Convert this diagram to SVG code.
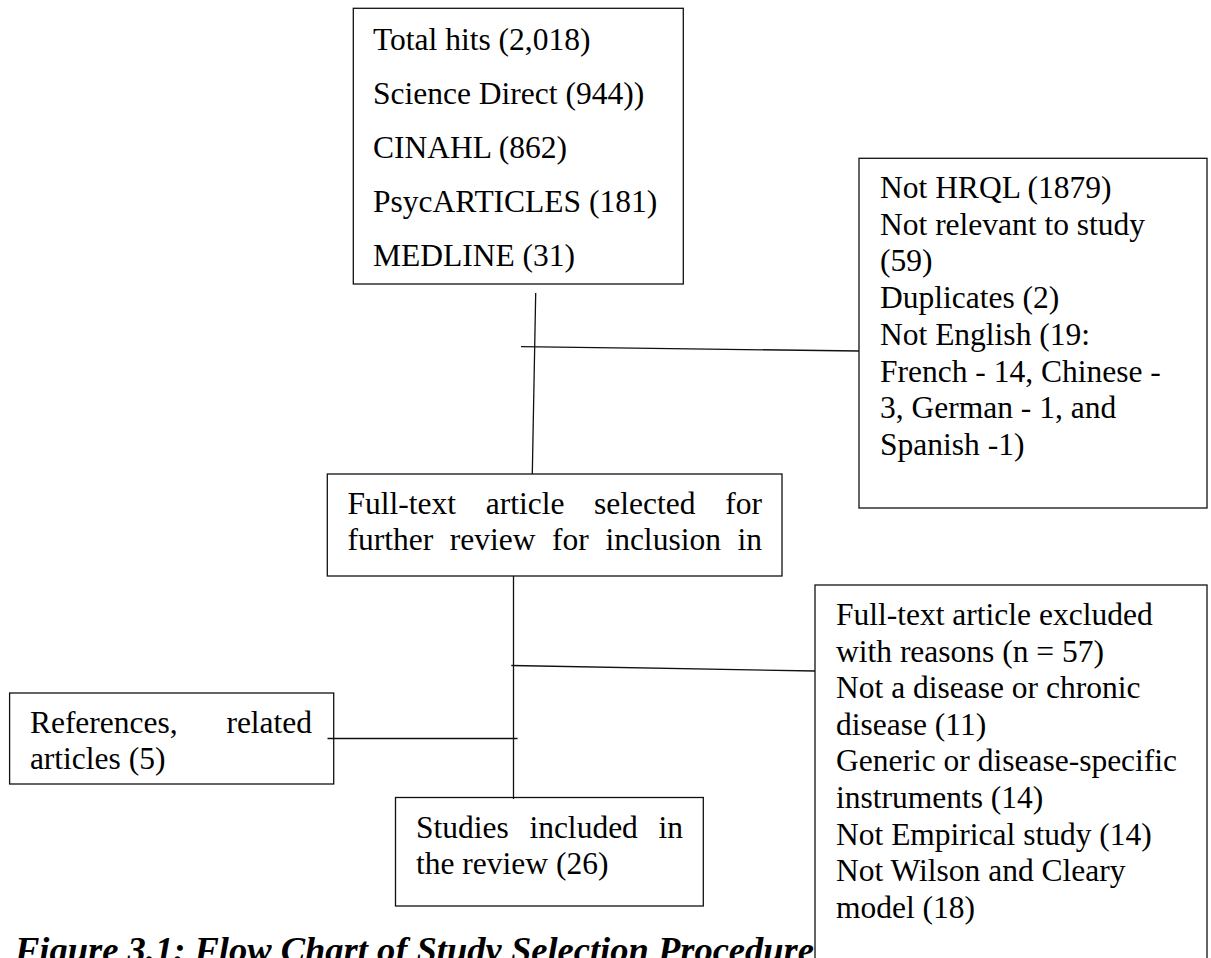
<svg xmlns="http://www.w3.org/2000/svg" width="1211" height="958" viewBox="0 0 1211 958">
<style>
.box{fill:#fff;stroke:#111;stroke-width:1.3}
.t{font-family:"Liberation Serif","Times New Roman",serif;font-size:31.5px;fill:#000}
.cap{font-family:"Liberation Serif","Times New Roman",serif;font-size:36.5px;font-weight:bold;font-style:italic;fill:#000}
.ln{stroke:#111;stroke-width:1.3;fill:none}
</style>
<rect width="1211" height="958" fill="#fff"/>
<text class="cap" x="15" y="962">Figure 3.1: Flow Chart of Study Selection Procedure</text>
<g id="search">
<rect class="box" x="353.3" y="8.3" width="330" height="275.7"/>
<text class="t" x="373"><tspan x="373" y="50">Total hits (2,018)</tspan><tspan x="373" y="104">Science Direct (944))</tspan><tspan x="373" y="158">CINAHL (862)</tspan><tspan x="373" y="212">PsycARTICLES (181)</tspan><tspan x="373" y="266">MEDLINE (31)</tspan></text>
</g>
<g id="excluded1">
<rect class="box" x="859" y="158.3" width="348" height="349.7"/>
<text class="t"><tspan x="880" y="198">Not HRQL (1879)</tspan><tspan x="880" y="234.7">Not relevant to study</tspan><tspan x="880" y="271.4">(59)</tspan><tspan x="880" y="308.1">Duplicates (2)</tspan><tspan x="880" y="344.8">Not English (19:</tspan><tspan x="880" y="381.5">French - 14, Chinese -</tspan><tspan x="880" y="418.2">3, German - 1, and</tspan><tspan x="880" y="454.9">Spanish -1)</tspan></text>
</g>
<g id="fulltext">
<rect class="box" x="327.3" y="474" width="454.7" height="102"/>
<text class="t"><tspan x="347.5" y="514">Full-text</tspan><tspan x="485.7" y="514">article</tspan><tspan x="594.1" y="514">selected</tspan><tspan x="725.3" y="514">for</tspan><tspan x="347.5" y="550">further</tspan><tspan x="449.8" y="550">review</tspan><tspan x="552.1" y="550">for</tspan><tspan x="605.4" y="550">inclusion</tspan><tspan x="737.5" y="550">in</tspan></text>
</g>
<g id="excluded2">
<rect class="box" x="815" y="585" width="392" height="390"/>
<text class="t"><tspan x="836" y="625">Full-text article excluded</tspan><tspan x="836" y="661.6">with reasons (n = 57)</tspan><tspan x="836" y="698.2">Not a disease or chronic</tspan><tspan x="836" y="734.8">disease (11)</tspan><tspan x="836" y="771.4">Generic or disease-specific</tspan><tspan x="836" y="808">instruments (14)</tspan><tspan x="836" y="844.6">Not Empirical study (14)</tspan><tspan x="836" y="881.2">Not Wilson and Cleary</tspan><tspan x="836" y="917.8">model (18)</tspan></text>
</g>
<g id="references">
<rect class="box" x="9.6" y="693" width="324.1" height="91"/>
<text class="t"><tspan x="29.9" y="733">References,</tspan><tspan x="226.4" y="733">related</tspan><tspan x="29.9" y="769">articles (5)</tspan></text>
</g>
<g id="included">
<rect class="box" x="395.5" y="797.5" width="307.8" height="108.5"/>
<text class="t"><tspan x="416" y="837.5">Studies</tspan><tspan x="529.4" y="837.5">included</tspan><tspan x="658.5" y="837.5">in</tspan><tspan x="416" y="873.5">the review (26)</tspan></text>
</g>
<g id="connectors">
<line class="ln" x1="535.7" y1="293" x2="532.3" y2="474"/>
<line class="ln" x1="521" y1="346.7" x2="859" y2="351"/>
<line class="ln" x1="513.5" y1="576" x2="513.5" y2="799"/>
<line class="ln" x1="511.3" y1="665.5" x2="815" y2="671"/>
<line class="ln" x1="327.5" y1="738.5" x2="517.5" y2="738.5"/>
</g>
</svg>
